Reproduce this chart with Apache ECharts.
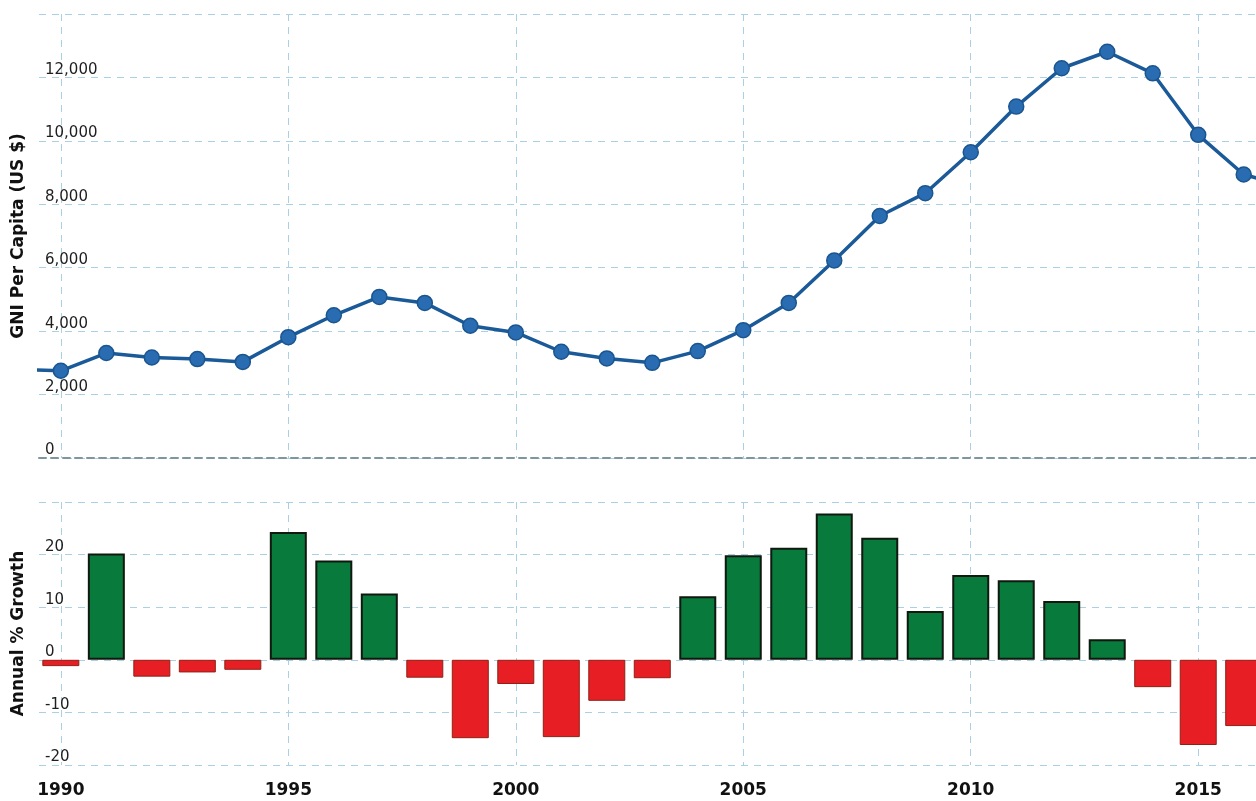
<!DOCTYPE html>
<html>
<head>
<meta charset="utf-8">
<script src="https://cdn.jsdelivr.net/npm/echarts@6/dist/echarts.min.js"></script>
<style>
html,body{margin:0;padding:0;background:#fff;}
#c{width:1256px;height:801px;}
</style>
</head>
<body>
<div id="c"></div>
<script>
// GNI per capita (US $), years 1989..2017 (ends partly off-view)
const gniYears = [1989,1990,1991,1992,1993,1994,1995,1996,1997,1998,1999,2000,2001,2002,2003,2004,2005,2006,2007,2008,2009,2010,2011,2012,2013,2014,2015,2016,2017];
const gniValues = [2790,2750,3310,3170,3120,3030,3810,4500,5080,4890,4170,3960,3350,3140,3000,3370,4030,4890,6230,7630,8350,9640,11080,12290,12810,12130,10190,8940,8550];
// Annual % growth, years 1990..2016
const growthYears = [1990,1991,1992,1993,1994,1995,1996,1997,1998,1999,2000,2001,2002,2003,2004,2005,2006,2007,2008,2009,2010,2011,2012,2013,2014,2015,2016];
const growthValues = [-1.2,20.2,-3.2,-2.4,-1.9,24.3,18.9,12.6,-3.4,-14.9,-4.6,-14.7,-7.8,-3.5,12.1,19.9,21.3,27.8,23.2,9.3,16.1,15.1,11.2,3.9,-5.2,-16.2,-12.6];
const xTickYears = [1990,1995,2000,2005,2010,2015];
const gniTicks = {min:0, max:14000, step:2000};
const growthTicks = {min:-20, max:30, step:10};
const gniAxisName = 'GNI Per Capita (US $)';
const growthAxisName = 'Annual % Growth';

const chart = echarts.init(document.getElementById('c'), null, {renderer:'canvas'});
const gridColor = '#aad0e6';
const xMin = 1989.52, xMax = 2016.27;
const font = 'DejaVu Sans';

function xAxisCfg(idx, showLabels){
  return {
    type:'value', gridIndex:idx, min:xMin, max:xMax,
    axisLine:{show: idx===0, lineStyle:{color:'#7d96a0', width:2, type:[7,5]}},
    axisTick:{show:false, customValues:xTickYears},
    axisLabel:{show:showLabels, customValues:xTickYears, fontFamily:font, fontWeight:'bold', fontSize:17, color:'#111', margin:17,
      formatter: v => String(Math.round(v))},
    splitLine:{show:true, lineStyle:{color:gridColor, width:1, type:[7,6]}}
  };
}
function yAxisCfg(idx, t, name){
  return {
    type:'value', gridIndex:idx, min:t.min, max:t.max, interval:t.step,
    name:name, nameLocation:'middle', nameGap:12, nameRotate:90,
    nameTextStyle:{fontFamily:font, fontWeight:'bold', fontSize:17, color:'#111'},
    axisLine:{show:false}, axisTick:{show:false},
    axisLabel:{inside:true, showMaxLabel:false, margin:6, fontFamily:font, fontSize:15, color:'#1e1e1e', verticalAlign:'bottom', padding:[0,0,0,0]},
    splitLine:{show:true, lineStyle:{color:gridColor, width:1, type:[7,6]}}
  };
}

chart.setOption({
  animation:false,
  backgroundColor:'#ffffff',
  grid:[
    {left:39, right:0, top:14, height:444},
    {left:39, right:0, top:502, height:263}
  ],
  xAxis:[xAxisCfg(0,false), xAxisCfg(1,true)],
  yAxis:[yAxisCfg(0,gniTicks,gniAxisName), yAxisCfg(1,growthTicks,growthAxisName)],
  series:[
    {
      type:'line', xAxisIndex:0, yAxisIndex:0, clip:true,
      data: gniYears.map((y,i)=>[y,gniValues[i]]),
      symbol:'circle', symbolSize:15,
      lineStyle:{color:'#1b5a98', width:3.5},
      itemStyle:{color:'#2a6cb2', borderColor:'#1a558f', borderWidth:1.5},
      z:3
    },
    {
      type:'bar', xAxisIndex:1, yAxisIndex:1, barWidth:37, clip:true,
      data: growthYears.map((y,i)=>{
        const v = growthValues[i];
        return {value:[y,v], itemStyle: v>=0
          ? {color:'#087a3b', borderColor:'#10190f', borderWidth:2}
          : {color:'#e81e25', borderColor:'#8e2015', borderWidth:1}};
      })
    }
  ]
});
</script>
</body>
</html>
